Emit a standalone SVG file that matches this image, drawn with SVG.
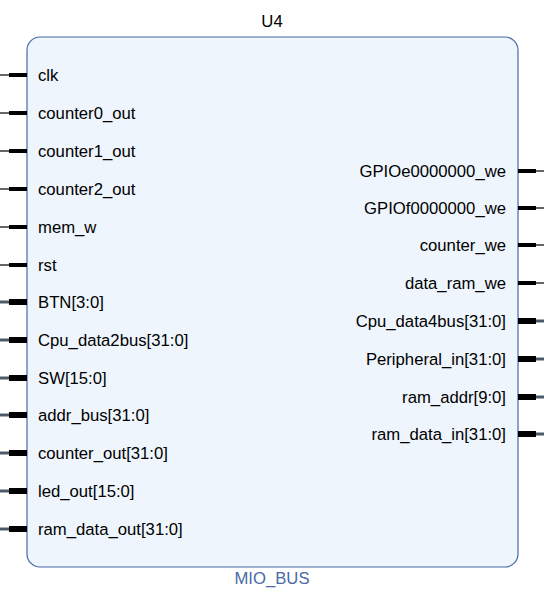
<svg xmlns="http://www.w3.org/2000/svg" width="544" height="595" viewBox="0 0 544 595">
<style>
text{font-family:"Liberation Sans",Arial,sans-serif;font-size:16.7px;fill:#000}
.r{text-anchor:end}
.thin{stroke:#000;stroke-width:1.2}
.bit{stroke:#000;stroke-width:4}
.busw{stroke:#4a5a6a;stroke-width:3}
.bus{stroke:#000;stroke-width:6}
.box{fill:#eef5fd;stroke:#4869a8;stroke-width:1.2}
</style>
<rect width="544" height="595" fill="#fff"/>
<g id="U4">
<rect class="box" x="27" y="37" width="491" height="530" rx="13"/>
<text x="272" y="27" text-anchor="middle">U4</text>
<text x="272" y="584" text-anchor="middle" style="fill:#4a6aa5">MIO_BUS</text>
</g>
<g id="connectors">
<line class="thin" x1="0" y1="75" x2="9" y2="75"/><line class="bit" x1="9" y1="75" x2="27" y2="75"/>
<line class="thin" x1="0" y1="113" x2="9" y2="113"/><line class="bit" x1="9" y1="113" x2="27" y2="113"/>
<line class="thin" x1="0" y1="151" x2="9" y2="151"/><line class="bit" x1="9" y1="151" x2="27" y2="151"/>
<line class="thin" x1="0" y1="189" x2="9" y2="189"/><line class="bit" x1="9" y1="189" x2="27" y2="189"/>
<line class="thin" x1="0" y1="227" x2="9" y2="227"/><line class="bit" x1="9" y1="227" x2="27" y2="227"/>
<line class="thin" x1="0" y1="265" x2="9" y2="265"/><line class="bit" x1="9" y1="265" x2="27" y2="265"/>
<line class="busw" x1="0" y1="302" x2="9" y2="302"/><line class="bus" x1="9" y1="302" x2="27" y2="302"/>
<line class="busw" x1="0" y1="340" x2="9" y2="340"/><line class="bus" x1="9" y1="340" x2="27" y2="340"/>
<line class="busw" x1="0" y1="378" x2="9" y2="378"/><line class="bus" x1="9" y1="378" x2="27" y2="378"/>
<line class="busw" x1="0" y1="415" x2="9" y2="415"/><line class="bus" x1="9" y1="415" x2="27" y2="415"/>
<line class="busw" x1="0" y1="453" x2="9" y2="453"/><line class="bus" x1="9" y1="453" x2="27" y2="453"/>
<line class="busw" x1="0" y1="491" x2="9" y2="491"/><line class="bus" x1="9" y1="491" x2="27" y2="491"/>
<line class="busw" x1="0" y1="529" x2="9" y2="529"/><line class="bus" x1="9" y1="529" x2="27" y2="529"/>
<line class="bit" x1="518" y1="171" x2="536" y2="171"/><line class="thin" x1="536" y1="171" x2="544" y2="171"/>
<line class="bit" x1="518" y1="208" x2="536" y2="208"/><line class="thin" x1="536" y1="208" x2="544" y2="208"/>
<line class="bit" x1="518" y1="245" x2="536" y2="245"/><line class="thin" x1="536" y1="245" x2="544" y2="245"/>
<line class="bit" x1="518" y1="283" x2="536" y2="283"/><line class="thin" x1="536" y1="283" x2="544" y2="283"/>
<line class="bus" x1="518" y1="321" x2="536" y2="321"/><line class="busw" x1="536" y1="321" x2="544" y2="321"/>
<line class="bus" x1="518" y1="359" x2="536" y2="359"/><line class="busw" x1="536" y1="359" x2="544" y2="359"/>
<line class="bus" x1="518" y1="397" x2="536" y2="397"/><line class="busw" x1="536" y1="397" x2="544" y2="397"/>
<line class="bus" x1="518" y1="434" x2="536" y2="434"/><line class="busw" x1="536" y1="434" x2="544" y2="434"/>
</g>
<g id="labels">
<text x="38" y="81">clk</text>
<text x="38" y="119">counter0_out</text>
<text x="38" y="157">counter1_out</text>
<text x="38" y="195">counter2_out</text>
<text x="38" y="233">mem_w</text>
<text x="38" y="271">rst</text>
<text x="38" y="308">BTN[3:0]</text>
<text x="38" y="346">Cpu_data2bus[31:0]</text>
<text x="38" y="384">SW[15:0]</text>
<text x="38" y="421">addr_bus[31:0]</text>
<text x="38" y="459">counter_out[31:0]</text>
<text x="38" y="497">led_out[15:0]</text>
<text x="38" y="535">ram_data_out[31:0]</text>
<text class="r" x="506" y="177">GPIOe0000000_we</text>
<text class="r" x="506" y="214">GPIOf0000000_we</text>
<text class="r" x="506" y="251">counter_we</text>
<text class="r" x="506" y="289">data_ram_we</text>
<text class="r" x="506" y="327">Cpu_data4bus[31:0]</text>
<text class="r" x="506" y="365">Peripheral_in[31:0]</text>
<text class="r" x="506" y="403">ram_addr[9:0]</text>
<text class="r" x="506" y="440">ram_data_in[31:0]</text>
</g>
</svg>
